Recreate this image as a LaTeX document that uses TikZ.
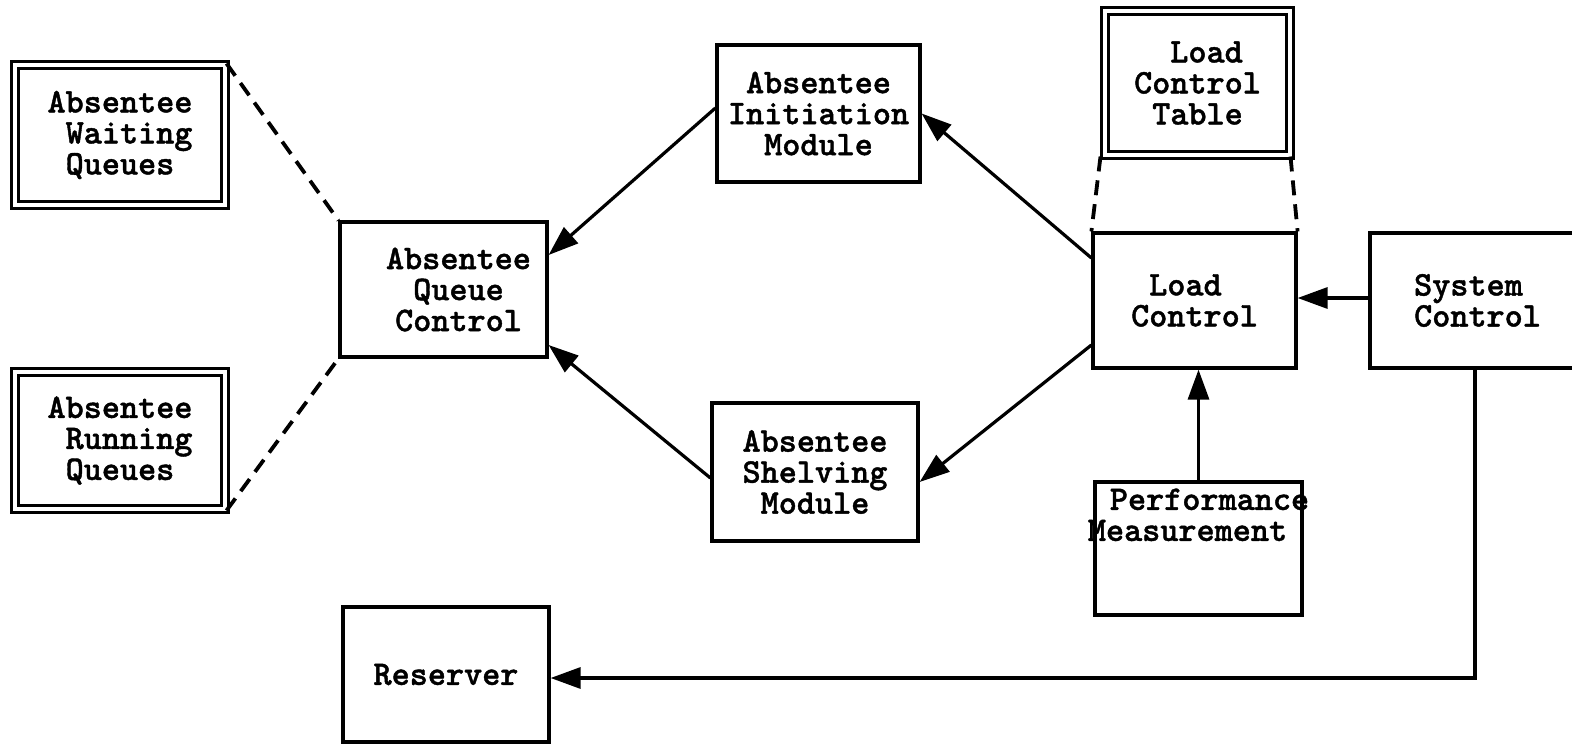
\documentclass[tikz,border=0pt]{standalone}
\usepackage{fontspec}
\newfontfamily\tw{lmmonolt10-bold.otf}[FakeBold=1.2]
\usetikzlibrary{arrows.meta}
\begin{document}
\begin{tikzpicture}[x=1pt,y=-1pt,
  txt/.style={font=\fontsize{34.5}{31}\selectfont\tw, inner sep=0pt},
  box/.style={txt, draw, line width=3.2pt, align=center},
  dbox/.style={box, double, double distance=4pt, line width=3pt},
  conn/.style={line width=3.2pt, -{Triangle[length=30pt,width=21pt]}},
  tie/.style={line width=3.8pt, dash pattern=on 15pt off 9pt}]
\clip (0,0) rectangle (1572,744);
\fill[white] (0,0) rectangle (1572,744);
% storage tables
\node[dbox, align=left, minimum width=210pt, minimum height=140pt] (wq) at (120,135)
  {Absentee\\\hspace*{0.525em}Waiting\\\hspace*{0.525em}Queues};
\node[dbox, align=left, minimum width=210pt, minimum height=137pt] (rq) at (120,440.5)
  {Absentee\\\hspace*{0.525em}Running\\\hspace*{0.525em}Queues};
\node[dbox, align=left, minimum width=185pt, minimum height=144pt] (lct) at (1197.5,83)
  {\hspace*{1.05em}Load\\Control\\\hspace*{0.525em}Table};
% modules
\node[box, minimum width=207pt, minimum height=135pt] (qc) at (443.5,289.5)
  {\hspace*{30pt}Absentee\\\hspace*{30pt}Queue\\\hspace*{30pt}Control};
\node[box, minimum width=203pt, minimum height=137pt] (init) at (818.5,113.5)
  {Absentee\\Initiation\\Module};
\node[box, minimum width=206pt, minimum height=138pt] (shelf) at (815,472)
  {Absentee\\Shelving\\Module};
\node[box, align=left, minimum width=203pt, minimum height=135pt] (lc) at (1194.5,300.5)
  {\hspace*{0.525em}Load\\Control};
\node[box, align=left, minimum width=215pt, minimum height=135pt] (sys) at (1477.5,300.5)
  {System\\Control};
\node[box, minimum width=207pt, minimum height=133pt] (perf) at (1198.5,548.5) {};
\node[txt, align=left, anchor=north] (perftext) at ([yshift=-8pt]perf.north)
  {\hspace*{22pt}Performance\\Measurement};
\node[box, minimum width=206pt, minimum height=135pt] (res) at (446,674.5) {Reserver};
% dashed ties
\draw[tie] (wq.north east) -- (qc.north west);
\draw[tie] (rq.south east) -- (qc.south west);
\draw[tie] ([xshift=-3pt]lct.south west) -- (lc.north west);
\draw[tie] ([xshift=-1pt]lct.south east) -- (lc.north east);
% arrows
\draw[conn] ([yshift=5.5pt]init.west) -- ([yshift=34.5pt]qc.east);
\draw[conn] ([yshift=-6pt]shelf.west) -- ([yshift=-55.5pt]qc.east);
\draw[conn] ([yshift=42.5pt]lc.west) -- (init.east);
\draw[conn] ([yshift=-44.5pt]lc.west) -- ([yshift=-10pt]shelf.east);
\draw[conn] ([yshift=2.5pt]sys.west) -- ([yshift=2.5pt]lc.east);
\draw[conn] (perf.north) -- (perf.north |- lc.south);
\coordinate (sysdown) at ([xshift=-2.5pt]sys.south);
\draw[conn] (sysdown) |- ([yshift=-3.5pt]res.east);
\end{tikzpicture}
\end{document}
